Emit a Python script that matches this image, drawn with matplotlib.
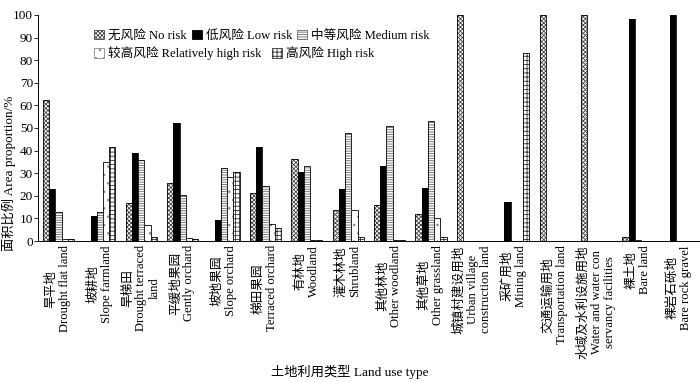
import matplotlib
matplotlib.use("Agg")
import matplotlib.pyplot as plt
import numpy as np
from matplotlib.patches import Patch

plt.rcParams['font.family'] = ['Liberation Serif', 'Noto Sans CJK SC']
plt.rcParams['hatch.linewidth'] = 0.6

cats_cn = ['旱平地', '坡耕地', '旱梯田', '平缓地果园', '坡地果园', '梯田果园', '有林地', '灌木林地',
           '其他林地', '其他草地', '城镇村建设用地', '采矿用地', '交通运输用地', '水域及水利设施用地',
           '裸土地', '裸岩石砾地']
cats_en = ['Drought flat land', 'Slope farmland', 'Drought terraced\nland', 'Gently orchard',
           'Slope orchard', 'Terraced orchard', 'Woodland', 'Shrubland', 'Other woodland',
           'Other grassland', 'Urban village\nconstruction land', 'Mining land',
           'Transportation land', 'Water and water con\nservancy facilities', 'Bare land',
           'Bare rock gravel']

no_risk = [62.5, 0, 16.7, 25.5, 0, 21.2, 36.3, 13.6, 15.9, 12.1, 100, 0, 100, 100, 1.8, 0]
low_risk = [22.8, 11.0, 39.1, 52.1, 9.3, 41.8, 30.7, 22.8, 33.0, 23.3, 0, 17.2, 0, 0, 98.2, 100]
medium_risk = [12.7, 12.7, 35.9, 20.3, 32.1, 24.3, 33.2, 47.7, 50.8, 52.9, 0, 0, 0, 0, 0.3, 0]
rel_high_risk = [0.9, 34.8, 7.0, 1.5, 28.1, 7.6, 0.4, 13.6, 0.4, 10.2, 0, 0, 0, 0, 0, 0]
high_risk = [0.9, 41.8, 2.0, 0.7, 30.7, 5.6, 0.4, 1.9, 0.6, 1.6, 0, 83.3, 0, 0, 0, 0]

series = [
    ('无风险 No risk', no_risk, 'white', '#444444', 'xxxxxxxx'),
    ('低风险 Low risk', low_risk, 'black', 'black', None),
    ('中等风险 Medium risk', medium_risk, 'white', '#666666', '-------'),
    ('较高风险 Relatively high risk', rel_high_risk, 'white', '#888888', '..'),
    ('高风险 High risk', high_risk, 'white', '#333333', '++++'),
]

fig = plt.figure(figsize=(7.0, 3.82), dpi=100)
ax = fig.add_axes([0.054, 0.369, 0.946, 0.592])

x = np.arange(len(cats_cn))
w = 0.15
handles = []
for i, (lab, vals, fc, hc, hatch) in enumerate(series):
    pos = x + (i - 2) * w
    vals = np.array(vals)
    mask = vals > 0
    ax.bar(pos[mask], vals[mask], w, color=fc, edgecolor=hc, hatch=hatch, linewidth=0)
    ax.bar(pos[mask], vals[mask], w, fill=False, edgecolor='black', linewidth=0.6)
    handles.append(Patch(facecolor=fc, edgecolor='black' if hatch is None else hc, hatch=hatch,
                         linewidth=0.6, label=lab))

ax.set_xlim(-0.5, 15.5)
ax.set_ylim(0, 100)
ax.set_yticks(np.arange(0, 101, 10))
ax.tick_params(axis='y', direction='out', length=3, width=0.6, labelsize=9.5, pad=0.5)
ax.set_xticks(x)
ax.set_xticklabels([c + '\n' + e for c, e in zip(cats_cn, cats_en)], rotation=90,
                   fontsize=9.1, ha='center', va='top', multialignment='center', linespacing=1.15)
ax.tick_params(axis='x', length=0, pad=3)
for s in ['top', 'right']:
    ax.spines[s].set_visible(False)
for s in ['left', 'bottom']:
    ax.spines[s].set_linewidth(0.7)

leg1 = ax.legend(handles=handles[:3], loc='upper left', bbox_to_anchor=(0.085, 0.935), ncol=3,
                 frameon=False, fontsize=9.1, handlelength=0.8, handleheight=0.8,
                 handletextpad=0.3, columnspacing=0.4, borderaxespad=0, borderpad=0)
ax.add_artist(leg1)
ax.legend(handles=handles[3:], loc='upper left', bbox_to_anchor=(0.085, 0.86), ncol=2,
          frameon=False, fontsize=9.1, handlelength=0.8, handleheight=0.8,
          handletextpad=0.3, columnspacing=0.8, borderaxespad=0, borderpad=0)

fig.text(0.012, 0.545, '面积比例 Area proportion/%', rotation=90, ha='center', va='center', fontsize=9.5)
fig.text(0.5, 0.025, '土地利用类型 Land use type', ha='center', va='center', fontsize=9.5)

fig.savefig('out.png', dpi=100)
